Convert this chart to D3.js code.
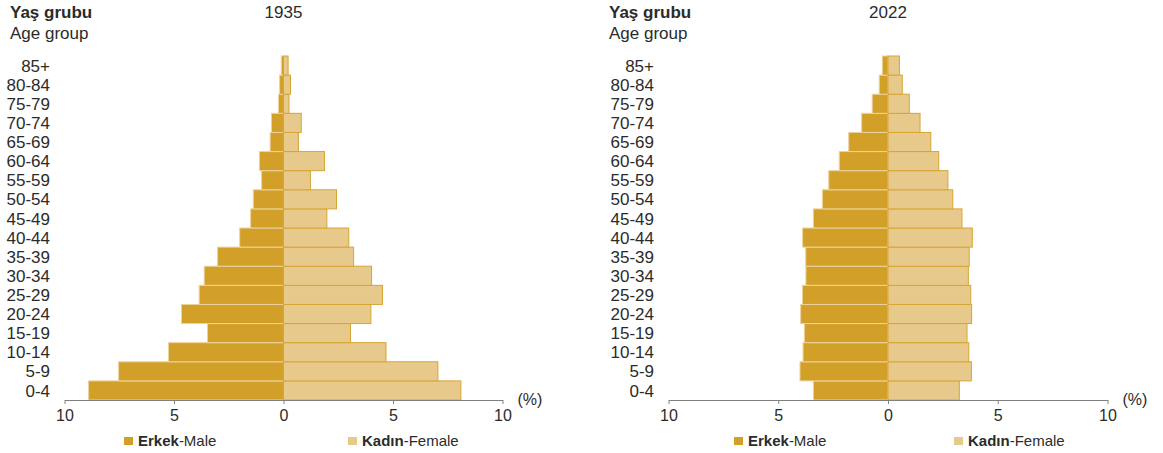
<!DOCTYPE html>
<html>
<head>
<meta charset="utf-8">
<script src="https://cdn.jsdelivr.net/npm/d3@7"></script>
<style>
 body { margin: 0; background: #fff; }
 svg text { font-family: "Liberation Sans", Arial, sans-serif; fill: #2b2b2b; }
</style>
</head>
<body>
<svg id="chart" width="1163" height="453"></svg>
<script>
// age groups, bottom to top
const ageGroups = ["0-4","5-9","10-14","15-19","20-24","25-29","30-34","35-39","40-44",
  "45-49","50-54","55-59","60-64","65-69","70-74","75-79","80-84","85+"];

// percent of population
const male1935   = [8.9, 7.53, 5.25, 3.47, 4.66, 3.85, 3.62, 3.01, 2.0, 1.5, 1.38, 1.0, 1.1, 0.61, 0.55, 0.23, 0.18, 0.1];
const female1935 = [8.1, 7.05, 4.68, 3.06, 3.99, 4.52, 4.02, 3.2, 2.98, 1.98, 2.42, 1.23, 1.87, 0.68, 0.81, 0.25, 0.32, 0.21];
const male2022   = [3.4, 4.01, 3.87, 3.81, 3.98, 3.9, 3.74, 3.75, 3.89, 3.4, 2.99, 2.7, 2.22, 1.79, 1.2, 0.72, 0.4, 0.26];
const female2022 = [3.25, 3.8, 3.68, 3.6, 3.81, 3.77, 3.66, 3.7, 3.84, 3.37, 2.95, 2.73, 2.31, 1.95, 1.46, 0.97, 0.65, 0.52];

const xTicks = [-10, -5, 0, 5, 10];

const maleColor = "#d29f29";
const femaleColor = "#e8c98c";

const svg = d3.select("#chart");

function pyramid(opt) {
  const g = svg.append("g");
  const x = d3.scaleLinear().domain([-10, 10]).range([opt.x0, opt.x1]);
  const y = d3.scaleBand().domain(ageGroups.slice().reverse()).range([56, 400]).padding(0);

  // headers
  g.append("text").attr("x", opt.lx).attr("y", 18)
    .style("font-size", "17px").style("font-weight", "bold").text("Yaş grubu");
  g.append("text").attr("x", opt.lx).attr("y", 39)
    .style("font-size", "17px").text("Age group");
  g.append("text").attr("x", x(0)).attr("y", 18).attr("text-anchor", "middle")
    .style("font-size", "17px").text(opt.year);

  // bars
  g.selectAll(".m").data(ageGroups).join("rect")
    .attr("x", (d, i) => x(-opt.male[i]))
    .attr("y", d => y(d))
    .attr("width", (d, i) => x(0) - x(-opt.male[i]))
    .attr("height", y.bandwidth())
    .attr("fill", maleColor).attr("stroke", "#ecd39e").attr("stroke-width", 1);

  g.selectAll(".f").data(ageGroups).join("rect")
    .attr("x", x(0))
    .attr("y", d => y(d))
    .attr("width", (d, i) => x(opt.female[i]) - x(0))
    .attr("height", y.bandwidth())
    .attr("fill", femaleColor).attr("stroke", "#d6a633").attr("stroke-width", 1);

  // age labels
  g.selectAll(".lab").data(ageGroups).join("text")
    .attr("x", opt.labX)
    .attr("y", d => y(d) + y.bandwidth() / 2)
    .attr("dy", "0.36em")
    .attr("text-anchor", "end")
    .style("font-size", "17px")
    .text(d => d);

  // x axis
  const ax = g.append("g").attr("transform", "translate(0,400)")
    .call(d3.axisBottom(x).tickValues(xTicks).tickSize(4).tickSizeOuter(0)
      .tickFormat(d => Math.abs(d)));
  ax.select(".domain").attr("stroke", "#808080");
  ax.selectAll(".tick line").attr("stroke", "#808080");
  ax.selectAll(".tick text").style("font-size", "16px").attr("dy", "0.85em");

  g.append("text").attr("x", x(10) + 15).attr("y", 405)
    .style("font-size", "16px").text("(%)");

  // legend
  const leg = [
    {c: maleColor, b: "Erkek", t: "-Male", x: opt.legX[0]},
    {c: femaleColor, b: "Kadın", t: "-Female", x: opt.legX[1]}
  ];
  leg.forEach(l => {
    g.append("rect").attr("x", l.x).attr("y", 437).attr("width", 9).attr("height", 8).attr("fill", l.c);
    const t = g.append("text").attr("x", l.x + 14).attr("y", 446).style("font-size", "15px");
    t.append("tspan").style("font-weight", "bold").text(l.b);
    t.append("tspan").text(l.t);
  });
}

pyramid({year: "1935", x0: 64.5, x1: 502.5, lx: 10, labX: 50,
  male: male1935, female: female1935, legX: [124, 348]});
pyramid({year: "2022", x0: 668.5, x1: 1107.5, lx: 609, labX: 654,
  male: male2022, female: female2022, legX: [734, 954]});
</script>
</body>
</html>
